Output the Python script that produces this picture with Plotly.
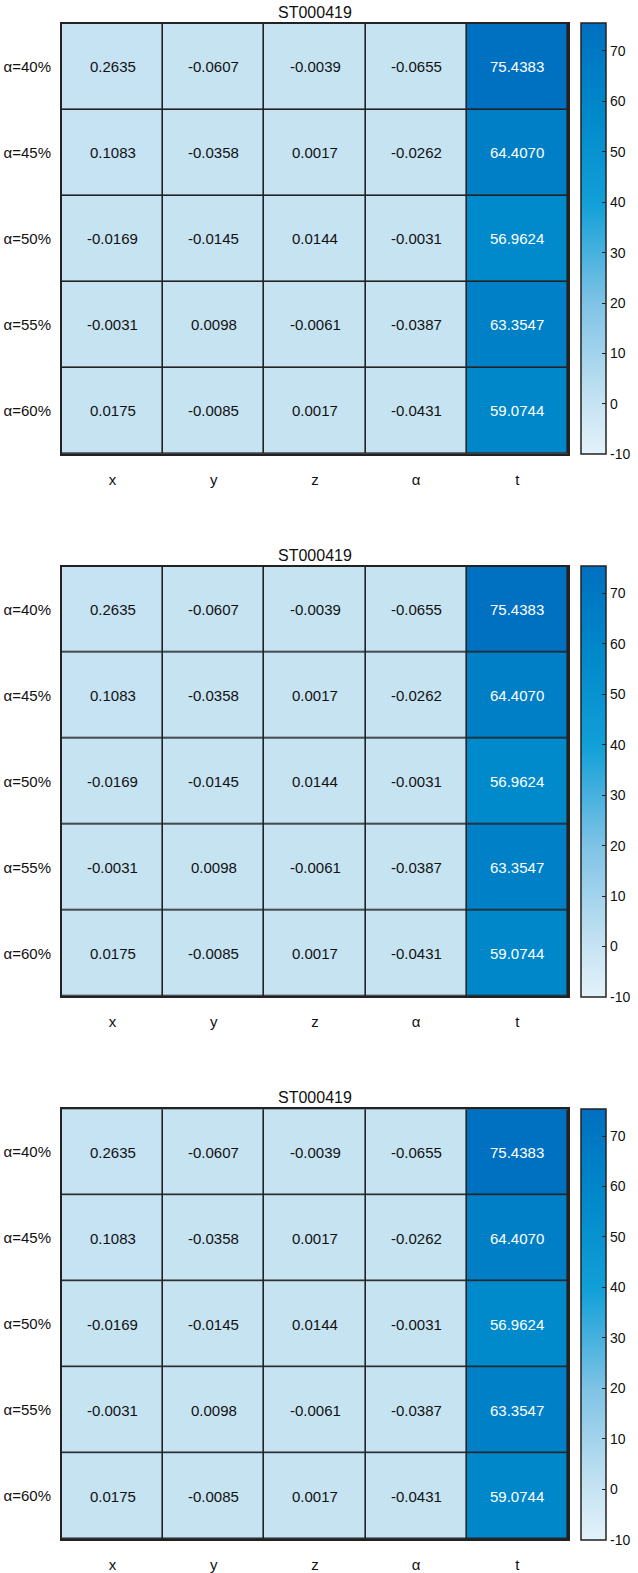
import plotly.graph_objects as go

title_text = "ST000419"
row_labels = ["α=40%", "α=45%", "α=50%", "α=55%", "α=60%"]
col_labels = ["x", "y", "z", "α", "t"]
x_vals = [0.2635, 0.1083, -0.0169, -0.0031, 0.0175]
y_vals = [-0.0607, -0.0358, -0.0145, 0.0098, -0.0085]
z_vals = [-0.0039, 0.0017, 0.0144, -0.0061, 0.0017]
a_vals = [-0.0655, -0.0262, -0.0031, -0.0387, -0.0431]
t_vals = [75.4383, 64.4070, 56.9624, 63.3547, 59.0744]
cbar_ticks = [-10, 0, 10, 20, 30, 40, 50, 60, 70]
zmin = -10

W, H = 638, 1573
panel_tops = [24, 568, 1112]
panel_h = 431
x_left, x_right = 62, 568

colorscale = [
    [0.0, "#E4F2FA"],
    [0.12, "#C5E3F2"],
    [0.35, "#7FC3E5"],
    [0.58, "#12A0D8"],
    [0.8, "#0088CA"],
    [1.0, "#0070C0"],
]

cols_data = [x_vals, y_vals, z_vals, a_vals, t_vals]
zmat = [[cols_data[c][r] for c in range(len(col_labels))] for r in range(len(row_labels))]
zmax = max(max(row) for row in zmat)

fig = go.Figure()
font_family = "Liberation Sans, Arial, sans-serif"

for i, top in enumerate(panel_tops):
    n = i + 1
    xa = "x" if n == 1 else f"x{n}"
    ya = "y" if n == 1 else f"y{n}"
    y0 = 1 - (top + panel_h) / H
    y1 = 1 - top / H
    fig.add_trace(go.Heatmap(
        z=zmat, x=col_labels, y=row_labels,
        colorscale=colorscale, zmin=zmin, zmax=zmax,
        xgap=1.6, ygap=1.6,
        xaxis=xa, yaxis=ya,
        hoverinfo="skip",
        colorbar=dict(
            x=581 / W, xanchor="left", xpad=0,
            y=(y0 + y1) / 2, yanchor="middle", ypad=0,
            len=panel_h, lenmode="pixels",
            thickness=25, thicknessmode="pixels",
            outlinewidth=1.5, outlinecolor="#222",
            ticks="inside", ticklen=4, tickcolor="#222", tickwidth=1.2,
            tickvals=cbar_ticks, ticktext=[str(t) for t in cbar_ticks],
            tickfont=dict(family=font_family, size=14, color="#111"),
        ),
    ))
    axis_common = dict(showline=True, mirror=True, linecolor="#222", linewidth=2,
                       ticks="", showgrid=False, zeroline=False,
                       tickfont=dict(family=font_family, size=15, color="#111"))
    fig.layout[f"xaxis{'' if n == 1 else n}"] = dict(
        domain=[x_left / W, x_right / W], anchor=ya, ticklabelstandoff=11, **axis_common)
    fig.layout[f"yaxis{'' if n == 1 else n}"] = dict(
        domain=[y0, y1], anchor=xa, autorange="reversed", ticklabelstandoff=6, **axis_common)
    fig.add_annotation(
        text=title_text, xref="paper", yref="paper",
        x=(x_left + x_right) / 2 / W, y=y1, yanchor="bottom", xanchor="center",
        yshift=1, showarrow=False,
        font=dict(family=font_family, size=16, color="#111"),
    )
    for r, rl in enumerate(row_labels):
        for c, cl in enumerate(col_labels):
            v = zmat[r][c]
            dark = (v - zmin) / (zmax - zmin) > 0.6
            fig.add_annotation(
                text=f"{v:.4f}", x=cl, y=rl, xref=xa, yref=ya, showarrow=False,
                font=dict(family=font_family, size=15, color="#FFFFFF" if dark else "#111"),
            )

fig.update_layout(
    width=W, height=H, margin=dict(l=0, r=0, t=0, b=0),
    paper_bgcolor="white", plot_bgcolor="#222",
    showlegend=False,
)
fig.write_html("out.html")
